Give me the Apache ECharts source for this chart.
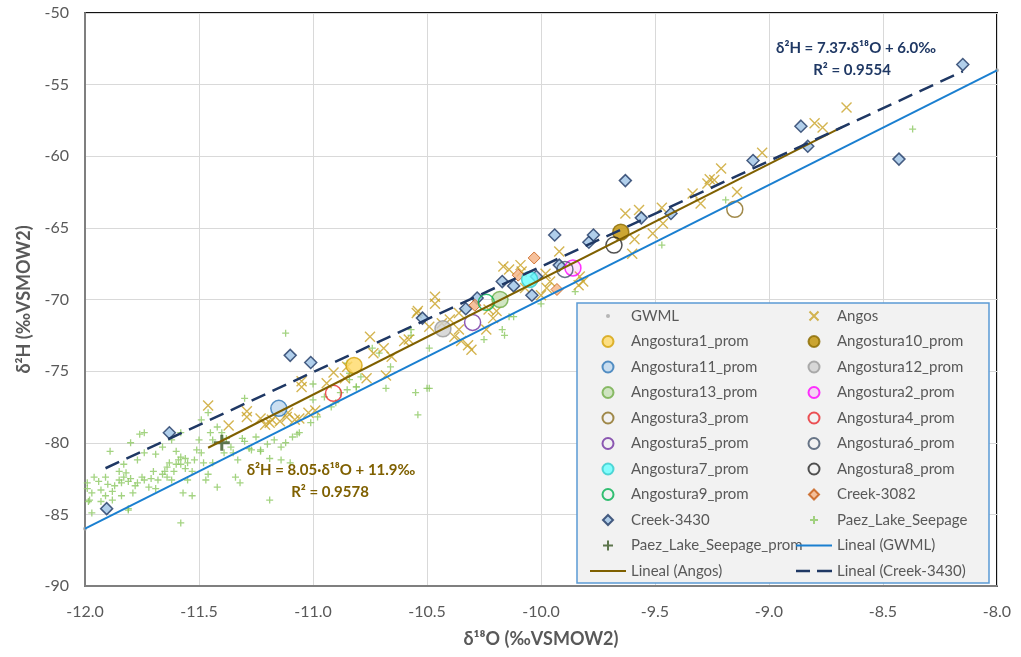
<!DOCTYPE html>
<html>
<head>
<meta charset="utf-8">
<script src="https://cdn.jsdelivr.net/npm/echarts@6/dist/echarts.min.js"></script>
<style>
html, body { margin: 0; padding: 0; background: #fff; }
#main { width: 1021px; height: 657px; }
</style>
</head>
<body>
<div id="main"></div>
<script>
// δ18O / δ2H values
var gwml = [[-12.0, -86.0], [-8.0, -54.0]];

var angos = [
  [-11.46, -77.4], [-11.37, -78.8], [-11.29, -77.8], [-11.29, -78.2], [-11.23, -78.3],
  [-11.21, -78.75], [-11.19, -78.6], [-11.18, -78.4], [-11.145, -78.5], [-11.115, -78.2],
  [-11.11, -77.9], [-11.08, -78.4], [-11.06, -78.3], [-11.02, -77.9], [-10.99, -77.75],
  [-11.05, -75.7], [-11.05, -76.1], [-10.91, -75.1], [-10.94, -75.85], [-10.86, -75.5],
  [-10.85, -74.7], [-10.765, -75.5], [-10.735, -73.75], [-10.69, -73.4], [-10.655, -74.0],
  [-10.68, -75.3], [-10.75, -72.6], [-10.60, -72.9], [-10.58, -72.8], [-10.545, -70.95],
  [-10.54, -70.8], [-10.465, -69.8], [-10.465, -70.3], [-10.49, -71.9], [-10.435, -71.65],
  [-10.40, -71.4], [-10.38, -72.6], [-10.35, -72.9], [-10.32, -73.2], [-10.305, -73.5],
  [-10.36, -70.95], [-10.36, -72.1], [-10.21, -71.3], [-10.195, -70.8], [-10.24, -72.1],
  [-10.23, -70.7], [-10.165, -67.7], [-10.14, -67.9], [-10.09, -67.6], [-10.085, -68.05],
  [-9.98, -68.2], [-9.96, -68.75], [-9.975, -69.2], [-10.07, -69.2], [-10.0, -69.7],
  [-9.92, -66.65], [-9.83, -68.4], [-9.815, -68.75], [-9.835, -69.0], [-9.63, -64.0],
  [-9.57, -63.75], [-9.59, -65.8], [-9.51, -65.4], [-9.60, -66.8], [-9.47, -63.6],
  [-9.465, -64.7], [-9.335, -62.6], [-9.30, -63.3], [-9.27, -61.9], [-9.26, -61.6],
  [-9.24, -61.65], [-9.21, -60.85], [-9.14, -62.5], [-9.03, -59.75], [-8.80, -57.7],
  [-8.765, -58.0], [-8.66, -56.6]
];

var paez = [
  [-11.99, -83.2], [-11.97, -83.5], [-11.94, -82.7], [-11.98, -84.0], [-11.93, -83.3],
  [-11.91, -83.7], [-11.90, -82.9], [-11.88, -83.4], [-11.87, -83.0], [-11.85, -82.6],
  [-11.84, -82.8], [-11.83, -82.4], [-11.82, -82.1], [-11.81, -82.7], [-11.80, -82.5],
  [-11.78, -83.0], [-11.79, -83.5], [-11.77, -82.8], [-11.75, -82.4], [-11.74, -79.3],
  [-11.76, -79.4], [-11.80, -80.0], [-11.89, -80.6], [-11.77, -81.2], [-11.74, -82.6],
  [-11.72, -83.1], [-11.71, -82.5], [-11.70, -82.0], [-11.69, -83.2], [-11.68, -82.6],
  [-11.66, -82.2], [-11.65, -82.0], [-11.64, -81.7], [-11.63, -81.4], [-11.64, -82.4],
  [-11.62, -82.6], [-11.61, -82.0], [-11.60, -81.5], [-11.59, -81.2], [-11.60, -80.6],
  [-11.58, -81.0], [-11.58, -81.5], [-11.56, -81.1], [-11.56, -81.8], [-11.55, -81.4],
  [-11.55, -82.6], [-11.53, -82.0], [-11.57, -83.5], [-11.53, -83.7], [-11.58, -85.6],
  [-11.52, -81.2], [-11.51, -80.5], [-11.50, -79.8], [-11.49, -80.7], [-11.48, -81.4],
  [-11.47, -82.6], [-11.46, -82.2], [-11.45, -79.3], [-11.44, -79.8], [-11.44, -81.4],
  [-11.42, -83.1], [-11.42, -78.9], [-11.40, -79.3], [-11.39, -80.7], [-11.38, -79.7],
  [-11.36, -80.3], [-11.35, -80.7], [-11.33, -81.2], [-11.34, -82.4], [-11.32, -82.8],
  [-11.31, -79.7], [-11.30, -79.9], [-11.28, -80.4], [-11.27, -80.5], [-11.25, -79.6],
  [-11.23, -80.6], [-11.23, -80.5], [-11.46, -77.9], [-11.49, -78.4], [-11.58, -79.3],
  [-11.62, -79.8], [-11.66, -80.3], [-11.69, -80.8], [-11.74, -80.7], [-11.83, -81.5],
  [-11.85, -82.0], [-11.91, -82.4], [-11.96, -82.4], [-11.99, -82.8], [-11.97, -84.9],
  [-11.93, -84.1], [-11.88, -84.0], [-11.81, -84.6], [-11.84, -83.7], [-11.985, -84.1],
  [-11.81, -84.7], [-11.19, -84.0], [-11.12, -72.35], [-11.30, -76.9], [-11.20, -80.1],
  [-11.17, -79.8], [-11.14, -80.3], [-11.12, -80.0], [-11.09, -79.6], [-11.06, -79.3],
  [-11.07, -79.4], [-11.01, -78.6], [-10.98, -78.2], [-11.0, -77.0], [-10.95, -76.8],
  [-10.92, -77.5], [-10.90, -77.2], [-10.88, -76.5], [-10.85, -76.3], [-10.84, -75.6],
  [-10.81, -76.1], [-11.0, -75.9], [-11.14, -81.2], [-11.19, -81.1], [-11.10, -81.4],
  [-10.85, -74.45], [-10.84, -75.15], [-10.79, -75.4], [-10.81, -76.1], [-10.74, -73.4],
  [-10.71, -73.75], [-10.66, -74.7], [-10.68, -76.2], [-10.57, -72.1], [-10.57, -72.5],
  [-10.55, -76.5], [-10.50, -76.2], [-10.54, -78.05], [-10.49, -73.4], [-10.49, -76.2],
  [-10.25, -72.8], [-10.17, -72.1], [-10.16, -72.5], [-10.12, -71.2], [-10.14, -71.2],
  [-10.0, -70.3], [-9.85, -69.45], [-9.47, -66.2], [-9.19, -63.05], [-8.37, -58.1]
];

var paezProm = [[-11.40, -80.0]];

var creek3430 = [
  [-11.905, -84.6], [-11.63, -79.3], [-11.10, -73.9], [-11.01, -74.4], [-10.52, -71.3],
  [-10.33, -70.65], [-10.28, -69.9], [-10.17, -68.75], [-10.12, -69.05], [-10.04, -69.7],
  [-10.02, -68.4], [-9.94, -65.5], [-9.92, -67.6], [-9.79, -66.0], [-9.77, -65.5],
  [-9.63, -61.7], [-9.56, -64.3], [-9.43, -64.0], [-9.07, -60.3], [-8.86, -57.9],
  [-8.83, -59.3], [-8.43, -60.2], [-8.15, -53.6]
];

var creek3082 = [[-10.29, -70.4], [-10.10, -68.3], [-10.03, -67.1], [-9.93, -69.3]];

var promNames = [
  'Angostura1_prom', 'Angostura10_prom', 'Angostura11_prom', 'Angostura12_prom',
  'Angostura13_prom', 'Angostura2_prom', 'Angostura3_prom', 'Angostura4_prom',
  'Angostura5_prom', 'Angostura6_prom', 'Angostura7_prom', 'Angostura8_prom',
  'Angostura9_prom'
];
var promPoints = [
  [-10.82, -74.6], [-9.65, -65.3], [-11.15, -77.6], [-10.43, -72.05],
  [-10.18, -70.0], [-9.86, -67.8], [-9.15, -63.7], [-10.91, -76.55],
  [-10.30, -71.6], [-9.895, -67.9], [-10.05, -68.6], [-9.68, -66.2],
  [-10.24, -70.2]
];

// trendline end points as drawn
var gwmlFit = [[-12.0, -86.0], [-8.0, -54.0]];
var angosFit = [[-11.46, -80.35], [-8.68, -57.97]];
var creekFit = [[-11.91, -81.78], [-8.15, -54.07]];

var promFill = ['#ffd966', '#bf9000', '#bdd7ee', '#d0d0d0', '#c5e0b4', 'rgba(255,0,255,0.15)',
  'transparent', 'transparent', 'transparent', 'transparent', '#66ffff', 'transparent', 'transparent'];
var promBorder = ['#d4a20a', '#8a6a00', '#2e75b6', '#9a9a9a', '#70ad47', '#ff00ff',
  '#8a6d1e', '#e8262a', '#7030a0', '#44546a', '#33cccc', '#262626', '#00b050'];

var FONT = 'Lato';
var PLUS = 'path://M5,0 L5,10 M0,5 L10,5';
var CROSS = 'path://M0,0 L10,10 M10,0 L0,10';
var myChart = echarts.init(document.getElementById('main'));

var series = [
  {
    name: 'GWML', type: 'scatter', data: gwml, symbol: 'circle', symbolSize: 4,
    itemStyle: { color: '#a6a6a6' }, z: 2
  },
  {
    name: 'Paez_Lake_Seepage', type: 'scatter', data: paez,
    symbol: PLUS, symbolSize: 7,
    itemStyle: { color: 'transparent', borderColor: '#8cc862', borderWidth: 1.3 }, z: 2
  },
  {
    name: 'Angos', type: 'scatter', data: angos,
    symbol: CROSS, symbolSize: 10,
    itemStyle: { color: 'transparent', borderColor: '#c9a227', borderWidth: 1.4 }, z: 3
  },
  {
    name: 'Creek-3430', type: 'scatter', data: creek3430, symbol: 'diamond', symbolSize: 12,
    itemStyle: { color: '#9dc3e6', borderColor: '#1f3864', borderWidth: 1.5 }, z: 4
  },
  {
    name: 'Creek-3082', type: 'scatter', data: creek3082, symbol: 'diamond', symbolSize: 12,
    itemStyle: { color: '#f4b183', borderColor: '#c55a11', borderWidth: 1 }, z: 4
  }
];

promNames.forEach(function (n, i) {
  series.push({
    name: n, type: 'scatter', data: [promPoints[i]], symbol: 'circle', symbolSize: 16,
    itemStyle: { color: promFill[i], borderColor: promBorder[i], borderWidth: 1.5 }, z: 5
  });
});

series.push(
  {
    name: 'Paez_Lake_Seepage_prom', type: 'scatter', data: paezProm,
    symbol: PLUS, symbolSize: 16,
    itemStyle: { color: 'transparent', borderColor: '#375623', borderWidth: 3 }, z: 5
  },
  {
    name: 'Lineal (GWML)', type: 'line', data: gwmlFit, symbol: 'none',
    lineStyle: { color: '#1a7fd0', width: 2 }, itemStyle: { color: '#1a7fd0' }, z: 6
  },
  {
    name: 'Lineal (Angos)', type: 'line', data: angosFit, symbol: 'none',
    lineStyle: { color: '#7f6000', width: 2 }, itemStyle: { color: '#7f6000' }, z: 6
  },
  {
    name: 'Lineal (Creek-3430)', type: 'line', data: creekFit, symbol: 'none',
    lineStyle: { color: '#1f3864', width: 2.5, type: [15, 8] }, itemStyle: { color: '#1f3864' }, z: 6
  }
);

// legend icons: the leading moves pin the icon box to 36x11 so shapes keep their proportions
var BOX = 'path://M0,0 M36,11 ';
var SOLID_ICON = BOX + 'M0,4.4 L36,4.4 L36,6.6 L0,6.6 Z';
var DASH_ICON = BOX + 'M0,4.2 L14,4.2 L14,6.8 L0,6.8 Z M21,4.2 L36,4.2 L36,6.8 L21,6.8 Z';
var DIAMOND_ICON = BOX + 'M18,0.5 L23,5.5 L18,10.5 L13,5.5 Z';
var CROSS_ICON = BOX + 'M13.5,1 L22.5,10 M22.5,1 L13.5,10';
var PLUS_ICON = BOX + 'M18,1.5 L18,9.5 M14,5.5 L22,5.5';
var BIGPLUS_ICON = BOX + 'M18,0.5 L18,10.5 M13,5.5 L23,5.5';
var DOT_ICON = BOX + 'M16,5.5 A2,2 0 1 1 20,5.5 A2,2 0 1 1 16,5.5 Z';

var leftItems = [
  { name: 'GWML', icon: DOT_ICON }, 'Angostura1_prom', 'Angostura11_prom', 'Angostura13_prom',
  'Angostura3_prom', 'Angostura5_prom', 'Angostura7_prom', 'Angostura9_prom',
  { name: 'Creek-3430', icon: DIAMOND_ICON },
  { name: 'Paez_Lake_Seepage_prom', icon: BIGPLUS_ICON }, { name: 'Lineal (Angos)', icon: SOLID_ICON }
];
var rightItems = [
  { name: 'Angos', icon: CROSS_ICON }, 'Angostura10_prom', 'Angostura12_prom', 'Angostura2_prom',
  'Angostura4_prom', 'Angostura6_prom', 'Angostura8_prom', { name: 'Creek-3082', icon: DIAMOND_ICON },
  { name: 'Paez_Lake_Seepage', icon: PLUS_ICON },
  { name: 'Lineal (GWML)', icon: SOLID_ICON }, { name: 'Lineal (Creek-3430)', icon: DASH_ICON }
];

function legendCol(items, left) {
  return {
    data: items, orient: 'vertical', left: left, top: 303,
    itemWidth: 36, itemHeight: 11, itemGap: 9.5, selectedMode: false,
    textStyle: { fontFamily: FONT, fontSize: 15, color: '#595959', lineHeight: 16 },
    z: 10
  };
}

var option = {
  animation: false,
  textStyle: { fontFamily: FONT },
  grid: {
    left: 85, right: 24, top: 13, bottom: 71,
    show: true, borderColor: '#111', borderWidth: 2
  },
  xAxis: {
    type: 'value', min: -12, max: -8, interval: 0.5,
    name: 'δ¹⁸O (‰VSMOW2)', nameLocation: 'middle', nameGap: 44,
    nameTextStyle: { fontFamily: FONT, fontSize: 18, fontWeight: 'bold', color: '#595959' },
    axisLine: { lineStyle: { color: '#7f7f7f', width: 2 } },
    axisTick: { show: false },
    axisLabel: { fontSize: 16, color: '#595959', margin: 18, formatter: function (v) { return v.toFixed(1); } },
    splitLine: { lineStyle: { color: '#d9d9d9' } }
  },
  yAxis: {
    type: 'value', min: -90, max: -50, interval: 5,
    name: 'δ²H (‰VSMOW2)', nameLocation: 'middle', nameGap: 52,
    nameTextStyle: { fontFamily: FONT, fontSize: 18, fontWeight: 'bold', color: '#595959' },
    axisLine: { show: true, lineStyle: { color: '#7f7f7f', width: 2 } },
    axisTick: { show: false },
    axisLabel: { fontSize: 16, color: '#595959', margin: 16 },
    splitLine: { lineStyle: { color: '#d9d9d9' } }
  },
  legend: [legendCol(leftItems, 584), legendCol(rightItems, 790)],
  graphic: [
    {
      type: 'rect', z: 8, shape: { x: 577, y: 303, width: 412, height: 280 },
      style: { fill: '#f2f2f2', stroke: '#5b9bd5', lineWidth: 1.5 }
    },
    {
      type: 'text', z: 9, x: 856, y: 48,
      style: { text: 'δ²H = 7.37·δ¹⁸O + 6.0‰', fill: '#1f3864', font: 'bold 15px ' + FONT, align: 'center', verticalAlign: 'middle' }
    },
    {
      type: 'text', z: 9, x: 852, y: 70,
      style: { text: 'R² = 0.9554', fill: '#1f3864', font: 'bold 15px ' + FONT, align: 'center', verticalAlign: 'middle' }
    },
    {
      type: 'text', z: 9, x: 331, y: 470,
      style: { text: 'δ²H = 8.05·δ¹⁸O + 11.9‰', fill: '#7f6000', font: 'bold 15px ' + FONT, align: 'center', verticalAlign: 'middle' }
    },
    {
      type: 'text', z: 9, x: 330, y: 492,
      style: { text: 'R² = 0.9578', fill: '#7f6000', font: 'bold 15px ' + FONT, align: 'center', verticalAlign: 'middle' }
    }
  ],
  series: series
};

myChart.setOption(option);
</script>
</body>
</html>
